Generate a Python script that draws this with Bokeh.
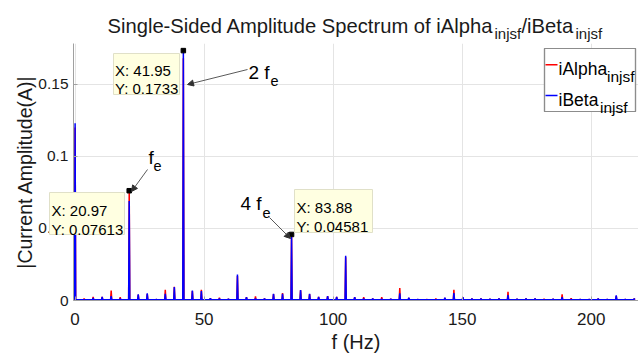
from bokeh.plotting import figure
from bokeh.models import Range1d, FixedTicker, Label, Arrow, NormalHead, BoxAnnotation
from bokeh.embed import file_html
from bokeh.resources import INLINE

# ---------------- data ----------------
FREQ_HZ = [0.00, 3.50, 6.99, 10.49, 13.98, 17.48, 20.97, 24.47, 27.96, 31.46,
           34.95, 38.45, 41.95, 45.44, 48.93, 52.43, 55.92, 59.42, 62.91, 66.41,
           69.90, 73.40, 76.89, 80.39, 83.88, 87.38, 90.87, 94.37, 97.86, 101.36,
           104.85, 108.35, 111.84, 115.34, 118.83, 122.33, 125.82, 129.32, 132.81, 136.31,
           139.80, 143.30, 146.79, 150.29, 153.78, 157.28, 160.77, 164.27, 167.76, 171.26,
           174.75, 178.25, 181.74, 185.24, 188.73, 192.23, 195.72, 199.22, 202.71, 206.21,
           209.70, 213.20, 216.69]
I_ALPHA = [0.1200, 0.0014, 0.0025, 0.0025, 0.0069, 0.0023, 0.07613, 0.0040, 0.0045, 0.0007,
           0.0074, 0.0095, 0.1680, 0.0065, 0.0074, 0.0016, 0.0019, 0.0010, 0.0170, 0.0023,
           0.0028, 0.0014, 0.0044, 0.0051, 0.0440, 0.0070, 0.0044, 0.0025, 0.0030, 0.0025,
           0.0300, 0.0023, 0.0023, 0.0012, 0.0023, 0.0010, 0.0086, 0.0017, 0.0007, 0.0008,
           0.0012, 0.0017, 0.0074, 0.0021, 0.0012, 0.0014, 0.0009, 0.0014, 0.0060, 0.0009,
           0.0014, 0.0014, 0.0010, 0.0009, 0.0042, 0.0016, 0.0008, 0.0008, 0.0012, 0.0008,
           0.0030, 0.0008, 0.0012]
I_BETA = [0.1230, 0.0005, 0.0018, 0.0025, 0.0030, 0.0014, 0.0690, 0.0042, 0.0049, 0.0007,
          0.0046, 0.0093, 0.1733, 0.0069, 0.0065, 0.0016, 0.0014, 0.0010, 0.0180, 0.0023,
          0.0014, 0.0014, 0.0046, 0.0046, 0.04581, 0.0072, 0.0046, 0.0025, 0.0030, 0.0025,
          0.0310, 0.0023, 0.0014, 0.0014, 0.0010, 0.0010, 0.0049, 0.0019, 0.0007, 0.0004,
          0.0006, 0.0019, 0.0051, 0.0023, 0.0012, 0.0014, 0.0009, 0.0014, 0.0037, 0.0009,
          0.0014, 0.0014, 0.0005, 0.0009, 0.0023, 0.0008, 0.0008, 0.0008, 0.0012, 0.0008,
          0.0035, 0.0008, 0.0012]
NOISE_FLOOR = 0.0006
TIP_X = [20.97, 41.95, 83.88]
TIP_Y = [0.07613, 0.1733, 0.04581]
X_TICKS = [0, 50, 100, 150, 200]
Y_TICKS = [0, 0.05, 0.1, 0.15]
Y_TICK_LABELS = ["0", "0.05", "0.1", "0.15"]
SERIES_NAMES = ["iAlpha", "iBeta"]
SUBSCRIPT = "injsf"

# ---------------- layout ----------------
W, H = 638, 358
L, R, T, B = 73, 638, 43, 300
X0_PX = 74.6            # pixel of f = 0
SX = 2.5805             # px per Hz
SY = 1442.0             # px per A
XMIN = -(X0_PX - L) / SX
XMAX = (R - X0_PX) / SX
YMAX = (B - T) / SY
FONT = "Liberation Sans"
INK = "#1a1a1a"


def spike_line(freqs, amps, half=0.22):
    xs, ys = [], []
    for f, a in zip(freqs, amps):
        xs += [f - half, f, f + half]
        ys += [NOISE_FLOOR, a, NOISE_FLOOR]
    return xs, ys


def dx(px):
    return (px - X0_PX) / SX


def dy(py):
    return (B - py) / SY


p = figure(width=W, height=H, output_backend="svg", toolbar_location=None,
           x_range=Range1d(XMIN, XMAX), y_range=Range1d(0, YMAX),
           min_border_left=L, min_border_right=W - R, min_border_top=T,
           min_border_bottom=H - B, title=None)
p.outline_line_color = None

for ax in (p.xaxis[0], p.yaxis[0]):
    ax.axis_line_color = "#a0a0a0"
    ax.major_tick_line_color = "#a0a0a0"
    ax.major_tick_in = 4
    ax.major_tick_out = 0
    ax.minor_tick_line_color = None
    ax.major_label_text_font = FONT
    ax.major_label_text_color = INK
    ax.axis_label_text_font = FONT
    ax.axis_label_text_font_style = "normal"
    ax.axis_label_text_color = INK

p.xaxis.ticker = FixedTicker(ticks=X_TICKS)
p.yaxis.ticker = FixedTicker(ticks=Y_TICKS)
p.yaxis.major_label_overrides = {t: s for t, s in zip(Y_TICKS, Y_TICK_LABELS)}
p.xaxis.major_label_text_font_size = "17px"
p.yaxis.major_label_text_font_size = "15.5px"
p.xaxis.major_label_standoff = 12
p.yaxis.major_label_standoff = 5
p.xaxis.axis_label = "f (Hz)"
p.yaxis.axis_label = "|Current Amplitude(A)|"
p.xaxis.axis_label_text_font_size = "20px"
p.yaxis.axis_label_text_font_size = "19.5px"
p.xaxis.axis_label_standoff = 3
p.yaxis.axis_label_standoff = -1

p.xgrid.ticker = FixedTicker(ticks=X_TICKS)
p.ygrid.ticker = FixedTicker(ticks=Y_TICKS)
p.grid.grid_line_color = "#e4e4e4"

ax_, ay_ = spike_line(FREQ_HZ, I_ALPHA)
bx_, by_ = spike_line(FREQ_HZ, I_BETA)
p.line(ax_, ay_, line_color="#ff0000", line_width=1.5)
p.line(bx_, by_, line_color="#0000ff", line_width=1.5)
p.scatter(TIP_X, TIP_Y, marker="square", size=4.5, color="black")

# legend frame inside the plot frame (fully opaque outline)
LEG_L, LEG_R, LEG_T, LEG_B = 544, 635, 48, 111
p.add_layout(BoxAnnotation(left=dx(LEG_L), right=dx(LEG_R), top=dy(LEG_T), bottom=dy(LEG_B),
                           fill_color="#ffffff", fill_alpha=1.0,
                           line_color="#8c8c8c", line_alpha=1.0, line_width=1.2))

# ---------------- transparent overlay (separate root) for texts outside the frame ----------------
ov = figure(width=W, height=H, output_backend="svg", toolbar_location=None,
            x_range=Range1d(0, W), y_range=Range1d(H, 0),
            x_axis_location=None, y_axis_location=None,
            min_border=0, title=None)
ov.outline_line_color = None
ov.background_fill_color = None
ov.border_fill_color = None
ov.grid.visible = False
ov.styles = {"position": "absolute", "top": "0px", "left": "0px"}


def lab(text, x, y, size, color="black"):
    ov.add_layout(Label(x=x, y=y, text=text, text_font=FONT,
                        text_font_size=f"{size}px", text_color=color,
                        text_baseline="alphabetic", text_align="left"))


# data-tip boxes (left, right, top, bottom in page pixels)
BOX_L = [49, 113, 294]
BOX_R = [124, 179, 372]
BOX_T = [192, 53, 189]
BOX_B = [234, 94, 232]
ov.quad(left=BOX_L, right=BOX_R, top=BOX_T, bottom=BOX_B,
        fill_color="#ffffe1", line_color="#e0e0c8", line_width=1)
# legend outline also in the overlay
ov.multi_line(xs=[[LEG_L, LEG_R, LEG_R, LEG_L, LEG_L]],
              ys=[[LEG_T, LEG_T, LEG_B, LEG_B, LEG_T]],
              line_color="#8c8c8c", line_width=1.2)

tip_text_x = [51, 114.5, 296]
tip_base = [(210, 228.7), (70, 88.3), (207, 225.7)]
tip_txt = [("X: 20.97", "Y: 0.07613"), ("X: 41.95", "Y: 0.1733"), ("X: 83.88", "Y: 0.04581")]
for tx, bls, txts in zip(tip_text_x, tip_base, tip_txt):
    for bl, s in zip(bls, txts):
        lab(s, tx, bl, 15)

# harmonic annotations
lab("2 f", 248, 72, 19)
lab("e", 270, 80.5, 14.5)
lab("f", 148, 157, 19)
lab("e", 153, 165.5, 14.5)
lab("4 f", 240, 202.5, 19)
lab("e", 262, 212.5, 14.5)
for (x0, y0, x1, y1) in [(247, 69, 187, 84), (147, 169, 131, 191), (269, 217, 290, 238)]:
    ov.add_layout(Arrow(x_start=x0, y_start=y0, x_end=x1, y_end=y1,
                        line_color="#303030", line_width=0.8,
                        end=NormalHead(size=6, fill_color="#303030", line_color="#303030")))

# title
lab("Single-Sided Amplitude Spectrum of " + SERIES_NAMES[0], 107, 25, 20.2, INK)
lab(SUBSCRIPT, 494, 32.5, 15, INK)
lab("/" + SERIES_NAMES[1], 521, 25, 20.2, INK)
lab(SUBSCRIPT, 575, 32.5, 15, INK)

# legend entries
ov.segment(x0=[545, 545], y0=[64.3, 95], x1=[557, 557], y1=[64.3, 95],
           line_color=["#ff0000", "#0000ff"], line_width=1.5)
lab(SERIES_NAMES[0], 558, 68.3, 17.5)
lab(SUBSCRIPT, 606.5, 75.5, 15.5)
lab(SERIES_NAMES[1], 558, 99.3, 17.5)
lab(SUBSCRIPT, 599.5, 106.5, 15.5)

open("out.html", "w").write(file_html([p, ov], INLINE))
